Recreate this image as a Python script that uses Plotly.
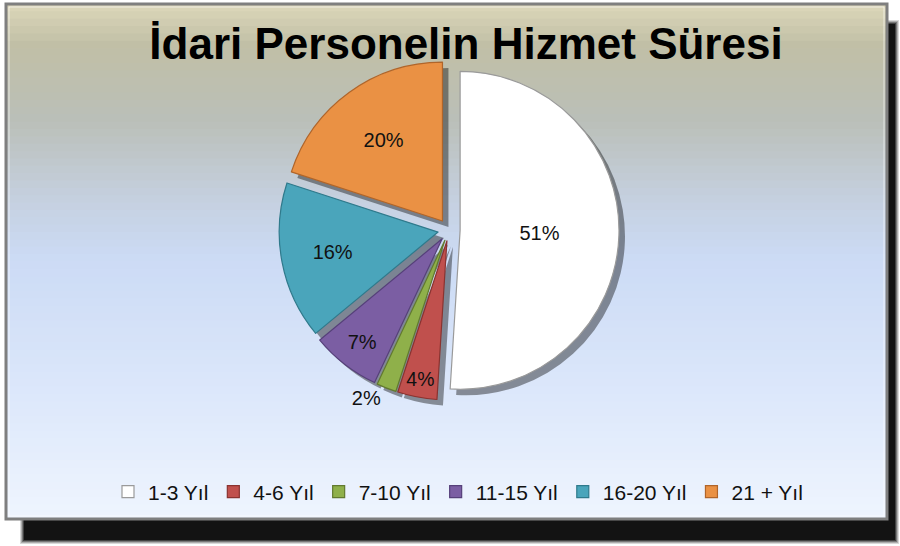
import plotly.graph_objects as go

# ---- data ----
categories = ["1-3 Yıl", "4-6 Yıl", "7-10 Yıl", "11-15 Yıl", "16-20 Yıl", "21 + Yıl"]
shares = [51, 4, 2, 7, 16, 20]
title_text = "İdari Personelin Hizmet Süresi"

colors = ["#ffffff", "#c0504d", "#8fb04a", "#7b5ea3", "#4aa5bb", "#ea9144"]
edge = ["#9a9a9a", "#8a3330", "#627a2f", "#56407a", "#2f7a8c", "#b0652a"]
textpos = ["inside", "inside", "outside", "inside", "inside", "inside"]

W, H = 900, 546
FONT = "Liberation Sans Narrow, Liberation Sans, Arial"

def px(x):
    return x / W

def py(y):
    return 1 - y / H

shapes = []
# drop shadow of frame (blurred black, right and bottom)
for i, a in enumerate([0.15, 0.2, 0.3, 0.45, 0.7]):
    d = 4 - i
    shapes.append(dict(type="rect", xref="paper", yref="paper",
                       x0=px(24 - d), x1=px(895 + d), y0=py(540 + d), y1=py(24 - d),
                       fillcolor=f"rgba(0,0,0,{a})", line_width=0, layer="below"))
# gradient background bands (each band runs to the frame bottom, later ones on top)
stops = [(3, (221, 216, 186)), (45, (193, 191, 166)), (120, (186, 191, 184)),
         (200, (197, 208, 224)), (260, (204, 219, 245)), (400, (221, 232, 251)),
         (520, (239, 245, 254))]
n = 70
y_top, y_bot = 4, 519
for k in range(n):
    ya = y_top + (y_bot - y_top) * k / n
    yb = y_top + (y_bot - y_top) * (k + 1) / n
    ym = (ya + yb) / 2
    for j in range(len(stops) - 1):
        if stops[j][0] <= ym <= stops[j + 1][0]:
            t = (ym - stops[j][0]) / (stops[j + 1][0] - stops[j][0])
            c = [round(stops[j][1][m] + (stops[j + 1][1][m] - stops[j][1][m]) * t) for m in range(3)]
            break
    shapes.append(dict(type="rect", xref="paper", yref="paper",
                       x0=px(6), x1=px(887), y0=py(y_bot), y1=py(ya),
                       fillcolor=f"rgb({c[0]},{c[1]},{c[2]})", line_width=0, layer="below"))
# frame border
shapes.append(dict(type="rect", xref="paper", yref="paper",
                   x0=px(6), x1=px(887), y0=py(519), y1=py(4),
                   line=dict(color="#7f7f7f", width=3), fillcolor="rgba(0,0,0,0)", layer="below"))
shapes.append(dict(type="rect", xref="paper", yref="paper",
                   x0=px(9), x1=px(884), y0=py(516), y1=py(7),
                   line=dict(color="rgba(255,255,255,0.6)", width=1), fillcolor="rgba(0,0,0,0)", layer="below"))

cx, cy, size = 449, 230, 340
dom_x = [px(cx - size / 2), px(cx + size / 2)]
dom_y = [py(cy + size / 2), py(cy - size / 2)]
sh = 6
dom_x_s = [px(cx - size / 2 + sh), px(cx + size / 2 + sh)]
dom_y_s = [py(cy + size / 2 + sh), py(cy - size / 2 + sh)]

pulls = [0.07] * len(shares)

fig = go.Figure()
# slice shadows
fig.add_trace(go.Pie(
    labels=categories, values=shares, sort=False, direction="clockwise", rotation=0,
    pull=pulls, domain=dict(x=dom_x_s, y=dom_y_s),
    marker=dict(colors=["rgba(0,0,0,0.4)"] * len(shares), line=dict(width=0)),
    textinfo="none", hoverinfo="skip", showlegend=False,
))
fig.add_trace(go.Pie(
    labels=categories, values=shares, sort=False, direction="clockwise", rotation=0,
    pull=pulls, domain=dict(x=dom_x, y=dom_y),
    marker=dict(colors=colors, line=dict(color=edge, width=1.2)),
    textinfo="percent", textposition=textpos,
    insidetextorientation="horizontal",
    textfont=dict(family=FONT, size=20, color="#111111"),
    outsidetextfont=dict(family=FONT, size=20, color="#111111"),
    showlegend=True,
))

fig.update_layout(
    width=W, height=H,
    margin=dict(l=0, r=0, t=0, b=0),
    paper_bgcolor="white",
    plot_bgcolor="rgba(0,0,0,0)",
    shapes=shapes,
    title=dict(text=title_text, x=px(466), xanchor="center", y=py(44), yanchor="middle",
               font=dict(family=FONT, size=44, color="#000000", weight="bold")),
    legend=dict(orientation="h", x=px(458), xanchor="center", y=py(492), yanchor="middle",
                font=dict(family=FONT, size=21, color="#111111"),
                bgcolor="rgba(0,0,0,0)", itemwidth=30, traceorder="normal"),
)

fig.write_html("out.html", config={"displayModeBar": False},
               post_script="document.body.style.margin='0';document.body.style.padding='0';")
